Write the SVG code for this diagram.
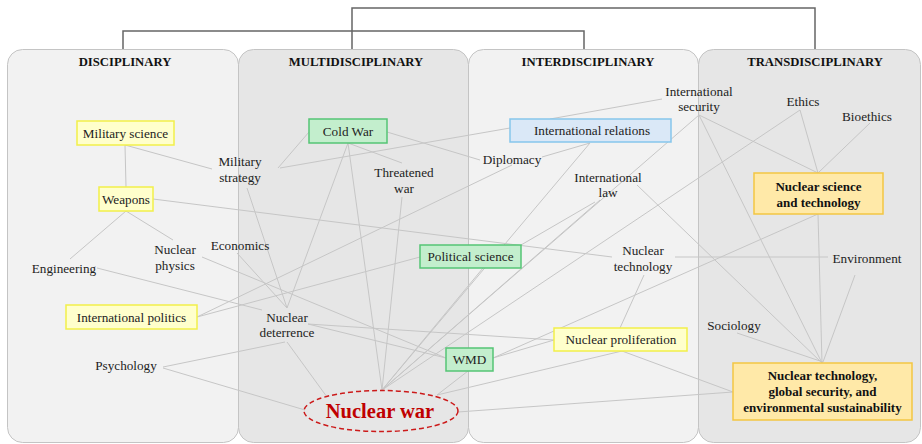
<svg xmlns="http://www.w3.org/2000/svg" width="922" height="444" viewBox="0 0 922 444">
<defs>
<style>
.pl{fill:#f2f2f2;stroke:#c4c4c4;stroke-width:1}
.pd{fill:#e6e6e6;stroke:#c4c4c4;stroke-width:1}
.hd{font-family:"Liberation Serif",serif;font-weight:bold;font-size:12.7px;fill:#111;text-anchor:middle}
.t{font-family:"Liberation Serif",serif;font-size:13.2px;fill:#222;text-anchor:middle}
.tb{font-family:"Liberation Serif",serif;font-size:13px;font-weight:bold;fill:#111;text-anchor:middle}
.y{fill:#ffffcc;stroke:#f2f04a;stroke-width:1.5}
.g{fill:#c3eecd;stroke:#55c575;stroke-width:1.5}
.b{fill:#dae8f7;stroke:#86c6ec;stroke-width:1.5}
.o{fill:#ffe9a8;stroke:#f3c643;stroke-width:1.5}
.br{fill:none;stroke:#666;stroke-width:1.5}
#connectors line{stroke:#c6c6c6;stroke-width:1}
</style>
</defs>
<g id="panels">
<rect class="pl" x="7.5" y="49.5" width="231" height="393" rx="15"/>
<rect class="pd" x="238.5" y="49.5" width="230" height="393" rx="15"/>
<rect class="pl" x="468.5" y="49.5" width="230" height="393" rx="15"/>
<rect class="pd" x="698.5" y="49.5" width="222" height="393" rx="15"/>
<text class="hd" x="125" y="66">DISCIPLINARY</text>
<text class="hd" x="356" y="66">MULTIDISCIPLINARY</text>
<text class="hd" x="588" y="66">INTERDISCIPLINARY</text>
<text class="hd" x="815" y="66">TRANSDISCIPLINARY</text>
</g>
<g id="brackets">
<path class="br" d="M123 49V31H584V49"/>
<path class="br" d="M352 49V8H815V49"/>
</g>
<g id="connectors">
<line x1="125" y1="145" x2="126" y2="187"/>
<line x1="125" y1="145" x2="212" y2="169"/>
<line x1="153" y1="199" x2="612" y2="257"/>
<line x1="126" y1="211" x2="70" y2="259"/>
<line x1="126" y1="211" x2="173" y2="240"/>
<line x1="247" y1="188" x2="287" y2="308"/>
<line x1="278" y1="168" x2="309" y2="132"/>
<line x1="280" y1="168" x2="510" y2="128"/>
<line x1="202" y1="257" x2="446" y2="358"/>
<line x1="97" y1="268" x2="262" y2="310"/>
<line x1="237" y1="253" x2="287" y2="308"/>
<line x1="348" y1="143" x2="287" y2="308"/>
<line x1="348" y1="143" x2="382" y2="390"/>
<line x1="348" y1="143" x2="402" y2="163"/>
<line x1="387" y1="132" x2="480" y2="160"/>
<line x1="402" y1="197" x2="382" y2="390"/>
<line x1="542" y1="157" x2="590" y2="143"/>
<line x1="512" y1="165" x2="197" y2="317"/>
<line x1="420" y1="257" x2="197" y2="317"/>
<line x1="590" y1="143" x2="382" y2="390"/>
<line x1="662" y1="99" x2="550" y2="119"/>
<line x1="699" y1="115" x2="382" y2="390"/>
<line x1="699" y1="115" x2="818" y2="173"/>
<line x1="699" y1="115" x2="822" y2="363"/>
<line x1="637" y1="185" x2="822" y2="363"/>
<line x1="600" y1="200" x2="382" y2="390"/>
<line x1="595" y1="202" x2="521" y2="245"/>
<line x1="800" y1="110" x2="382" y2="390"/>
<line x1="800" y1="110" x2="818" y2="173"/>
<line x1="870" y1="123" x2="818" y2="173"/>
<line x1="818" y1="214" x2="493" y2="358"/>
<line x1="818" y1="214" x2="822" y2="363"/>
<line x1="675" y1="257" x2="828" y2="257"/>
<line x1="644" y1="275" x2="620" y2="328"/>
<line x1="554" y1="340" x2="493" y2="358"/>
<line x1="622" y1="351" x2="733" y2="392"/>
<line x1="437" y1="395" x2="622" y2="351"/>
<line x1="437" y1="395" x2="468" y2="371"/>
<line x1="458" y1="412" x2="733" y2="392"/>
<line x1="308" y1="324" x2="554" y2="340"/>
<line x1="308" y1="324" x2="446" y2="358"/>
<line x1="163" y1="367" x2="285" y2="342"/>
<line x1="163" y1="368" x2="305" y2="410"/>
<line x1="287" y1="342" x2="327" y2="397"/>
<line x1="483" y1="268" x2="382" y2="390"/>
<line x1="737" y1="333" x2="823" y2="362"/>
<line x1="855" y1="275" x2="823" y2="362"/>
</g>
<g id="n-milsci"><rect class="y" x="77" y="121" width="97" height="24"/><text class="t" x="125.5" y="137.5">Military science</text></g>
<g id="n-weapons"><rect class="y" x="99" y="187" width="54" height="24"/><text class="t" x="126" y="203.5">Weapons</text></g>
<g id="n-milstrat"><text class="t" x="240" y="165.5">Military</text><text class="t" x="240" y="181.5">strategy</text></g>
<g id="n-eng"><text class="t" x="64" y="272.5">Engineering</text></g>
<g id="n-nucphys"><text class="t" x="175" y="253.5">Nuclear</text><text class="t" x="175" y="269.5">physics</text></g>
<g id="n-econ"><text class="t" x="240" y="249.5">Economics</text></g>
<g id="n-intpol"><rect class="y" x="66" y="305" width="131" height="24"/><text class="t" x="131.5" y="321.5">International politics</text></g>
<g id="n-psych"><text class="t" x="126" y="369.5">Psychology</text></g>
<g id="n-coldwar"><rect class="g" x="309" y="119" width="78" height="24"/><text class="t" x="348" y="135.5">Cold War</text></g>
<g id="n-threat"><text class="t" x="404" y="176.5">Threatened</text><text class="t" x="404" y="192.5">war</text></g>
<g id="n-diplo"><text class="t" x="512" y="163.5">Diplomacy</text></g>
<g id="n-ir"><rect class="b" x="510" y="119" width="161" height="23"/><text class="t" x="592" y="135">International relations</text></g>
<g id="n-polsci"><rect class="g" x="420" y="245" width="101" height="23"/><text class="t" x="470.5" y="261">Political science</text></g>
<g id="n-nd"><text class="t" x="287" y="321.5">Nuclear</text><text class="t" x="287" y="336.5">deterrence</text></g>
<g id="n-wmd"><rect class="g" x="446" y="348" width="47" height="23"/><text class="t" x="469.5" y="364">WMD</text></g>
<g id="n-nw"><ellipse cx="381" cy="411" rx="77" ry="20.5" fill="none" stroke="#cc1a1a" stroke-width="1.5" stroke-dasharray="5,3"/><text x="380" y="418" font-family="Liberation Serif,serif" font-size="20.5" font-weight="bold" fill="#c00000" text-anchor="middle">Nuclear war</text></g>
<g id="n-intsec"><text class="t" x="699" y="95.5">International</text><text class="t" x="699" y="110.5">security</text></g>
<g id="n-intlaw"><text class="t" x="608" y="181.5">International</text><text class="t" x="608" y="196.5">law</text></g>
<g id="n-nuctech"><text class="t" x="643" y="254.5">Nuclear</text><text class="t" x="643" y="270.5">technology</text></g>
<g id="n-nucprol"><rect class="y" x="554" y="328" width="133" height="23"/><text class="t" x="621" y="344">Nuclear proliferation</text></g>
<g id="n-ethics"><text class="t" x="803" y="105.5">Ethics</text></g>
<g id="n-bioeth"><text class="t" x="867" y="120.5">Bioethics</text></g>
<g id="n-nst"><rect class="o" x="754" y="173" width="129" height="41"/><text class="tb" x="818.5" y="190.5">Nuclear science</text><text class="tb" x="818.5" y="206.5">and technology</text></g>
<g id="n-env"><text class="t" x="867" y="262.5">Environment</text></g>
<g id="n-soc"><text class="t" x="734" y="329.5">Sociology</text></g>
<g id="n-ntgs"><rect class="o" x="733" y="363" width="179" height="57"/><text class="tb" x="822.5" y="379.5">Nuclear technology,</text><text class="tb" x="822.5" y="395.5">global security, and</text><text class="tb" x="822.5" y="411.5">environmental sustainability</text></g>
</svg>
